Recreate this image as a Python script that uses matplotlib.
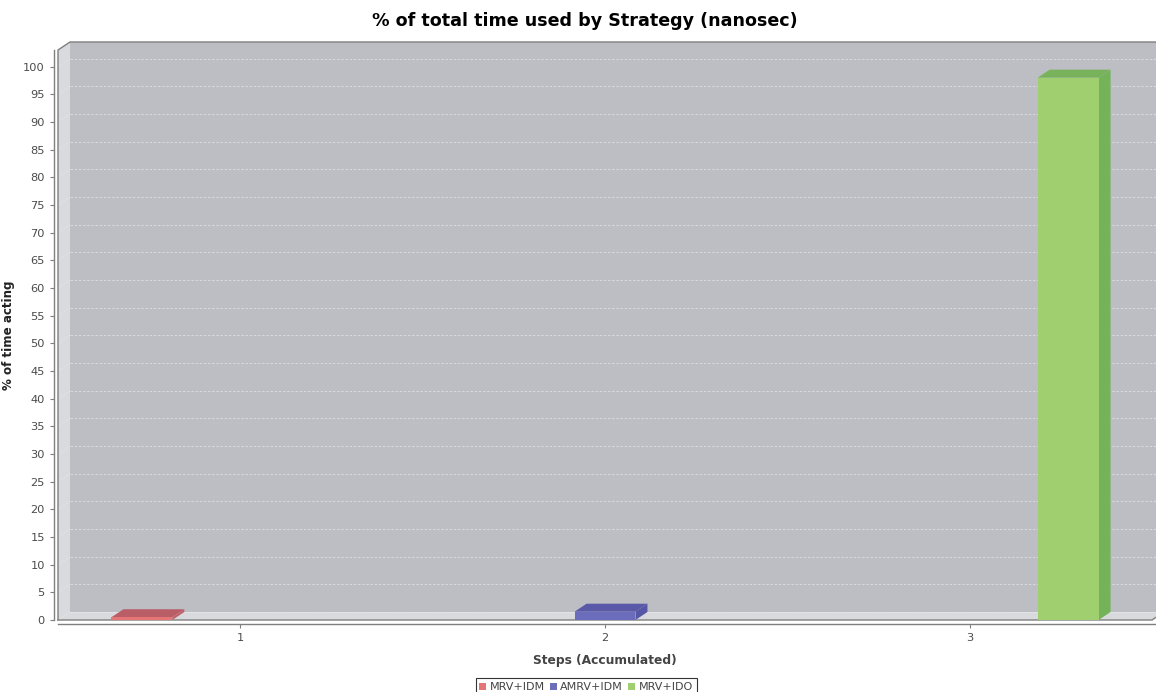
import matplotlib
matplotlib.use("Agg")
import matplotlib.pyplot as plt
from matplotlib.patches import Polygon, Patch
import numpy as np

# share of total time per strategy, one strategy per step
steps = [1, 2, 3]
strategies = ["MRV+IDM", "AMRV+IDM", "MRV+IDO"]
strategy_step = [1, 2, 3]
pct_time = [0.5, 1.5, 98.0]
slot_offset = [-0.27, 0.0, 0.27]
yticks = list(range(0, 101, 5))

front_cols = ["#e67575", "#6c6cbd", "#9fcf6e"]
top_cols = ["#b95e66", "#5959a8", "#78b35c"]
side_cols = ["#c06068", "#5656a6", "#74b35a"]

W, H = 1156, 692
fig = plt.figure(figsize=(W / 100, H / 100), dpi=100)
ax = fig.add_axes([58 / W, (H - 620) / H, 1094 / W, 570 / H])
ax.set_facecolor("none")
xmin, xmax = 0.5, 3.5
ymin, ymax = 0, 103
ax.set_xlim(xmin, xmax)
ax.set_ylim(ymin, ymax)

# 3d depth: 12 px right, 8 px up, in data units
px_x = (xmax - xmin) / 1094
px_y = (ymax - ymin) / 570
dx, dy = 12 * px_x, 8 * px_y

wall = "#bcbec3"
side_wall = "#d9dadd"
edge = "#7f7f7f"

# back wall, left wall and floor
ax.add_patch(Polygon([(xmin + dx, dy), (xmax + dx, dy), (xmax + dx, ymax + dy), (xmin + dx, ymax + dy)],
                     closed=True, fc=wall, ec="none", clip_on=False, zorder=0))
ax.add_patch(Polygon([(xmin, 0), (xmin, ymax), (xmin + dx, ymax + dy), (xmin + dx, dy)],
                     closed=True, fc=side_wall, ec="none", clip_on=False, zorder=0))
ax.add_patch(Polygon([(xmin, 0), (xmax, 0), (xmax + dx, dy), (xmin + dx, dy)],
                     closed=True, fc=side_wall, ec="none", clip_on=False, zorder=0))

# gridlines on the walls
for v in yticks[1:]:
    ax.plot([xmin + dx, xmax + dx], [v + dy, v + dy], color="white", lw=0.6,
            ls=(0, (3, 2)), alpha=0.5, clip_on=False, zorder=1)
    ax.plot([xmin, xmin + dx], [v, v + dy], color="white", lw=0.6,
            ls=(0, (2, 2)), alpha=0.35, clip_on=False, zorder=1)
ax.plot([xmin + dx, xmax + dx], [dy, dy], color="white", lw=0.6,
        ls=(0, (2, 1)), alpha=0.45, clip_on=False, zorder=1)

# outline of the box
ax.plot([xmin, xmin, xmin + dx, xmax + dx], [0, ymax, ymax + dy, ymax + dy],
        color=edge, lw=1.0, clip_on=False, zorder=2)
ax.plot([xmin, xmax, xmax + dx], [0, 0, dy], color=edge, lw=1.0, clip_on=False, zorder=2)

# bars
bw = 0.167
for s, v, off, fc, tc, sc in zip(strategy_step, pct_time, slot_offset, front_cols, top_cols, side_cols):
    x0 = s + off - bw / 2
    x1 = x0 + bw
    ax.bar(s + off, v, bw, color=fc, zorder=5, clip_on=False)
    ax.add_patch(Polygon([(x1, 0), (x1, v), (x1 + dx, v + dy), (x1 + dx, dy)],
                         closed=True, fc=sc, ec="none", zorder=4, clip_on=False))
    ax.add_patch(Polygon([(x0, v), (x1, v), (x1 + dx, v + dy), (x0 + dx, v + dy)],
                         closed=True, fc=tc, ec="none", zorder=4, clip_on=False))

# axes
for side in ["top", "right"]:
    ax.spines[side].set_visible(False)
for side in ["left", "bottom"]:
    ax.spines[side].set_position(("outward", 3))
    ax.spines[side].set_color(edge)
    ax.spines[side].set_linewidth(1.0)
ax.spines["bottom"].set_bounds(xmin, xmax + dx)
ax.set_yticks(yticks)
ax.set_xticks(steps)
ax.tick_params(colors=edge, labelcolor="#4a4a4a", labelsize=8.2, length=3, width=0.8)
ax.set_xlabel("Steps (Accumulated)", fontsize=8.8, fontweight="bold", color="#444444", labelpad=8)
ax.set_ylabel("% of time acting", fontsize=8.6, fontweight="bold", color="#222222", labelpad=6)

fig.text(0.506, 1 - 21 / H, "% of total time used by Strategy (nanosec)",
         ha="center", va="center", fontsize=12.6, fontweight="bold")

handles = [Patch(fc=c, ec="none") for c in front_cols]
leg = fig.legend(handles, strategies, loc="lower center", bbox_to_anchor=(0.507, -0.006), ncol=3,
                 fontsize=8.0, frameon=True, fancybox=False, edgecolor="black",
                 handlelength=0.6, handleheight=0.6, handletextpad=0.3, columnspacing=0.5,
                 borderpad=0.35, borderaxespad=0.0)
leg.get_frame().set_linewidth(0.8)
for t in leg.get_texts():
    t.set_color("#444444")

fig.savefig("out.png", dpi=100)
